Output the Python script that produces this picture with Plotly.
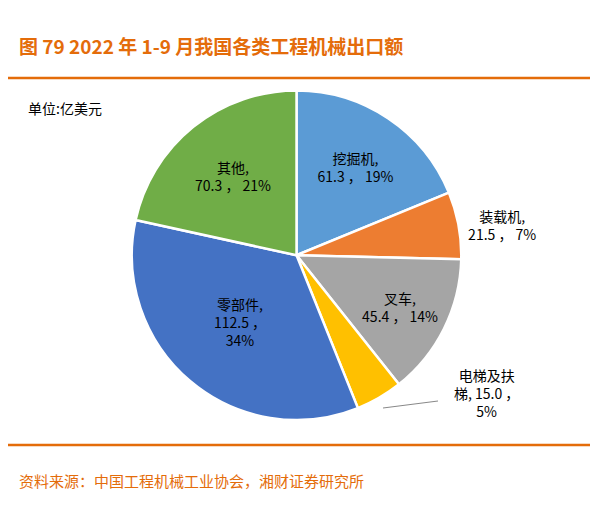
import plotly.graph_objects as go

labels = ["挖掘机", "装载机", "叉车", "电梯及扶梯", "零部件", "其他"]
values = [61.3, 21.5, 45.4, 15.0, 112.5, 70.3]
pcts = ["19%", "7%", "14%", "5%", "34%", "21%"]
colors = ["#5B9BD5", "#ED7D31", "#A5A5A5", "#FFC000", "#4472C4", "#70AD47"]
texts = ["挖掘机,<br>61.3 ， 19%", "装载机,<br>21.5 ， 7%", "叉车,<br>45.4 ， 14%",
         "", "零部件,<br>112.5 ，<br>34%", "其他,<br>70.3 ， 21%"]
positions = ["inside", "outside", "inside", "none", "inside", "inside"]

fig = go.Figure(go.Pie(
    labels=labels, values=values, text=texts, texttemplate="%{text}",
    textposition=positions, sort=False, direction="clockwise", rotation=0,
    marker=dict(colors=colors, line=dict(color="white", width=2.5)),
    insidetextfont=dict(color="black", size=14, family="Noto Sans CJK SC"),
    outsidetextfont=dict(color="black", size=14, family="Noto Sans CJK SC"),
    insidetextorientation="horizontal",
    domain=dict(x=[0.207, 0.758], y=[0.198, 0.840]), showlegend=False,
))
orange = "#E46C0A"
fig.update_layout(
    width=598, height=514, margin=dict(l=0, r=0, t=0, b=0),
    paper_bgcolor="white", plot_bgcolor="white",
    shapes=[
        dict(type="line", xref="paper", yref="paper", x0=0.0, x1=0.985, y0=1-70/514, y1=1-70/514, line=dict(color=orange, width=2.5)),
        dict(type="line", xref="paper", yref="paper", x0=0.0, x1=0.985, y0=1-437/514, y1=1-437/514, line=dict(color=orange, width=2.5)),
        dict(type="line", xref="paper", yref="paper", x0=375/598, x1=430/598, y0=1-400/514, y1=1-393/514, line=dict(color="#888", width=1)),
    ],
    annotations=[
        dict(text="<b>图 79 2022 年 1-9 月我国各类工程机械出口额</b>", x=0.015, y=1-38/514, xref="paper", yref="paper",
             xanchor="left", yanchor="middle", showarrow=False, font=dict(color=orange, size=19, family="Noto Sans CJK SC")),
        dict(text="单位:亿美元", x=0.03, y=1-100/514, xref="paper", yref="paper", xanchor="left", yanchor="middle",
             showarrow=False, font=dict(color="black", size=14, family="Noto Sans CJK SC")),
        dict(text="电梯及扶<br>梯, 15.0 ，<br>5%", x=478/598, y=1-385/514, xref="paper", yref="paper", xanchor="center", yanchor="middle",
             showarrow=False, font=dict(color="black", size=14, family="Noto Sans CJK SC")),
        dict(text="资料来源：中国工程机械工业协会，湘财证券研究所", x=0.015, y=1-472/514, xref="paper", yref="paper",
             xanchor="left", yanchor="middle", showarrow=False, font=dict(color=orange, size=15, family="Noto Sans CJK SC")),
    ],
)
fig.write_html("out.html")
